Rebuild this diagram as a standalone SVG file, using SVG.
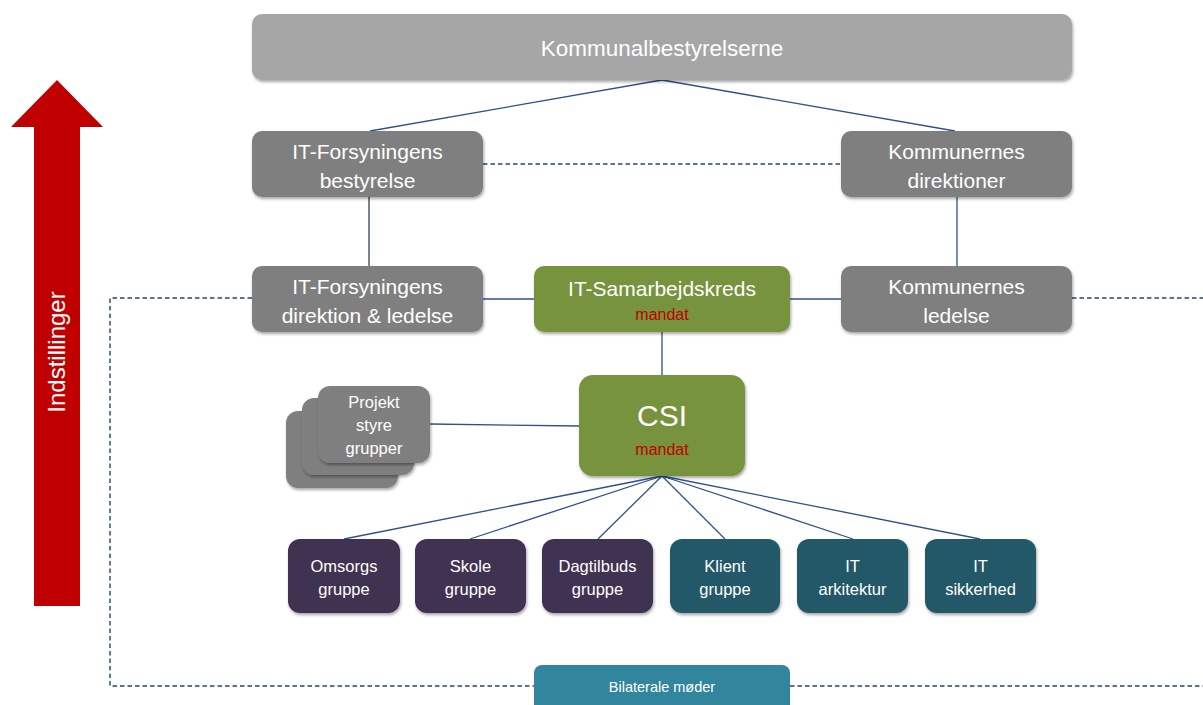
<svg xmlns="http://www.w3.org/2000/svg" width="1203" height="705" viewBox="0 0 1203 705">
<defs>
<filter id="sh" x="-10%" y="-10%" width="130%" height="140%">
<feDropShadow dx="1" dy="2" stdDeviation="1.5" flood-color="#000" flood-opacity="0.35"/>
</filter>
<style>
text{font-family:"Liberation Sans",Arial,sans-serif;fill:#fff;text-anchor:middle}
.grey{fill:#7f7f7f;filter:url(#sh)}
.lgrey{fill:#a6a6a6;filter:url(#sh)}
.green{fill:#77933c;filter:url(#sh)}
.purple{fill:#403151;filter:url(#sh)}
.teal{fill:#215868;filter:url(#sh)}
.blue{fill:#31859c}
.t21{font-size:21px}
.t16{font-size:16.5px}
.m{fill:#c00000;font-size:16px}
.ln{stroke:#2e5090;stroke-width:1.3;fill:none}
.dl{stroke:#264478;stroke-width:1.4;fill:none;stroke-dasharray:4.5 3}
</style>
</defs>
<g id="arrow">
<polygon points="57,80 103,127 80,127 80,606 34,606 34,127 11,127" fill="#c00000"/>
<text transform="translate(65,352) rotate(-90)" font-size="24">Indstillinger</text>
</g>
<g id="connectors">
<line class="ln" x1="662" y1="80" x2="370" y2="131"/>
<line class="ln" x1="662" y1="80" x2="955" y2="131"/>
<line class="dl" x1="483" y1="164" x2="841" y2="164"/>
<line x1="369" y1="197" x2="369" y2="266" stroke="#333f50" stroke-width="1.3"/>
<line class="ln" x1="957" y1="197" x2="957" y2="266"/>
<line class="ln" x1="483" y1="299" x2="534" y2="299"/>
<line class="ln" x1="790" y1="299" x2="841" y2="299"/>
<line class="ln" x1="662" y1="332" x2="662" y2="375"/>
<line class="ln" x1="430" y1="424" x2="579" y2="426"/>
<line class="ln" x1="662" y1="476" x2="344" y2="539"/>
<line class="ln" x1="662" y1="476" x2="470" y2="539"/>
<line class="ln" x1="662" y1="476" x2="598" y2="539"/>
<line class="ln" x1="662" y1="476" x2="725" y2="539"/>
<line class="ln" x1="662" y1="476" x2="853" y2="539"/>
<line class="ln" x1="662" y1="476" x2="980" y2="539"/>
<polyline class="dl" points="252,298 110,298 110,686 534,686"/>
<line class="dl" x1="790" y1="686" x2="1203" y2="686"/>
<line class="dl" x1="1072" y1="298" x2="1203" y2="298"/>
</g>
<g id="kommunalbestyrelserne">
<rect class="lgrey" x="252" y="14" width="820" height="66" rx="10"/>
<text x="662" y="56" font-size="22.5">Kommunalbestyrelserne</text>
</g>
<g id="itf-bestyrelse">
<rect class="grey" x="252" y="131" width="231" height="66" rx="10"/>
<text class="t21" x="367.5" y="159">IT-Forsyningens</text>
<text class="t21" x="367.5" y="188">bestyrelse</text>
</g>
<g id="kommunernes-direktioner">
<rect class="grey" x="841" y="131" width="231" height="66" rx="10"/>
<text class="t21" x="956.5" y="159">Kommunernes</text>
<text class="t21" x="956.5" y="188">direktioner</text>
</g>
<g id="itf-direktion">
<rect class="grey" x="252" y="266" width="231" height="66" rx="10"/>
<text class="t21" x="367.5" y="294">IT-Forsyningens</text>
<text class="t21" x="367.5" y="323">direktion &amp; ledelse</text>
</g>
<g id="it-samarbejdskreds">
<rect class="green" x="534" y="266" width="256" height="66" rx="10"/>
<text class="t21" x="662" y="296">IT-Samarbejdskreds</text>
<text class="m" x="662" y="320">mandat</text>
</g>
<g id="kommunernes-ledelse">
<rect class="grey" x="841" y="266" width="231" height="66" rx="10"/>
<text class="t21" x="956.5" y="294">Kommunernes</text>
<text class="t21" x="956.5" y="323">ledelse</text>
</g>
<g id="projekt-styregrupper">
<rect class="grey" x="286" y="411" width="112" height="77" rx="12"/>
<rect class="grey" x="302" y="398" width="112" height="77" rx="12"/>
<rect class="grey" x="318" y="386" width="112" height="77" rx="12"/>
<text class="t16" x="374" y="408">Projekt</text>
<text class="t16" x="374" y="431">styre</text>
<text class="t16" x="374" y="454">grupper</text>
</g>
<g id="csi">
<rect class="green" x="579" y="375" width="166" height="101" rx="14"/>
<text x="662" y="426" font-size="30">CSI</text>
<text class="m" x="662" y="455">mandat</text>
</g>
<g id="omsorgs">
<rect class="purple" x="288" y="539" width="112" height="74" rx="12"/>
<text class="t16" x="344" y="572">Omsorgs</text>
<text class="t16" x="344" y="595">gruppe</text>
</g>
<g id="skole">
<rect class="purple" x="415" y="539" width="111" height="74" rx="12"/>
<text class="t16" x="470.5" y="572">Skole</text>
<text class="t16" x="470.5" y="595">gruppe</text>
</g>
<g id="dagtilbuds">
<rect class="purple" x="542" y="539" width="111" height="74" rx="12"/>
<text class="t16" x="597.5" y="572">Dagtilbuds</text>
<text class="t16" x="597.5" y="595">gruppe</text>
</g>
<g id="klient">
<rect class="teal" x="670" y="539" width="110" height="74" rx="12"/>
<text class="t16" x="725" y="572">Klient</text>
<text class="t16" x="725" y="595">gruppe</text>
</g>
<g id="it-arkitektur">
<rect class="teal" x="797" y="539" width="111" height="74" rx="12"/>
<text class="t16" x="852.5" y="572">IT</text>
<text class="t16" x="852.5" y="595">arkitektur</text>
</g>
<g id="it-sikkerhed">
<rect class="teal" x="925" y="539" width="111" height="74" rx="12"/>
<text class="t16" x="980.5" y="572">IT</text>
<text class="t16" x="980.5" y="595">sikkerhed</text>
</g>
<g id="bilaterale">
<rect class="blue" x="534" y="665" width="256" height="50" rx="8"/>
<text x="662" y="692" font-size="14.5">Bilaterale møder</text>
</g>
</svg>
